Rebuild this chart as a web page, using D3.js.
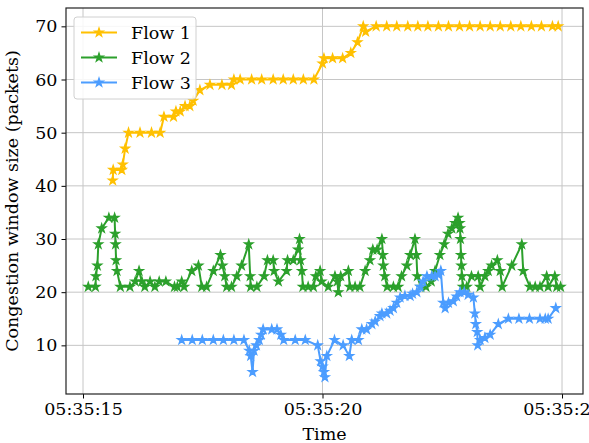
<!DOCTYPE html>
<html>

<head>
    <meta charset="utf-8">
    <title>Congestion window</title>
    <script src="https://d3js.org/d3.v7.min.js"></script>
    <style>
        body { margin: 0; background: #fff; }
        text { font-family: "DejaVu Serif", serif; fill: #000; }
    </style>
</head>

<body>
    <div class="chart"></div>
    <script>
        // seconds after 05:35:00 and cwnd values
        var flow1Time = [15.62, 15.63, 15.81, 15.83, 15.88, 15.95, 16.19, 16.43, 16.61, 16.69, 16.89, 16.94, 17.03, 17.13,
            17.23, 17.30, 17.44, 17.65, 17.90, 18.10, 18.15, 18.28, 18.52, 18.73, 18.97, 19.18, 19.39, 19.60, 19.82,
            20.00, 20.03, 20.21, 20.42, 20.59, 20.73, 20.85, 20.90, 21.12, 21.34, 21.55, 21.78, 21.99, 22.20, 22.42,
            22.63, 22.86, 23.07, 23.29, 23.50, 23.71, 23.93, 24.14, 24.36, 24.57, 24.80, 24.92];
        var flow1Cwnd = [41, 43, 43, 44, 47, 50, 50, 50, 50, 53, 53, 54, 54, 55,
            55, 56, 58, 59, 59, 59, 60, 60, 60, 60, 60, 60, 60, 60, 60,
            63, 64, 64, 64, 65, 67, 70, 69, 70, 70, 70, 70, 70, 70, 70,
            70, 70, 70, 70, 70, 70, 70, 70, 70, 70, 70, 70];

        var flow2Time = [15.11, 15.26, 15.27, 15.30, 15.32, 15.39, 15.54, 15.66, 15.67, 15.68, 15.69, 15.71, 15.78, 15.98,
            16.09, 16.17, 16.23, 16.29, 16.40, 16.50, 16.59, 16.73, 16.91, 16.97, 17.06, 17.11, 17.27, 17.41, 17.48,
            17.58, 17.72, 17.87, 17.91, 17.96, 18.00, 18.10, 18.21, 18.31, 18.46, 18.49, 18.50, 18.63, 18.78, 18.85,
            18.97, 18.99, 19.08, 19.25, 19.27, 19.39, 19.49, 19.52, 19.54, 19.57, 19.59, 19.70, 19.81, 19.86, 19.95,
            19.98, 20.12, 20.26, 20.31, 20.33, 20.38, 20.54, 20.57, 20.68, 20.78, 20.89, 20.99, 21.05, 21.14, 21.24,
            21.26, 21.27, 21.30, 21.35, 21.48, 21.58, 21.65, 21.76, 21.83, 21.93, 21.96, 21.98, 22.05, 22.16, 22.27,
            22.35, 22.45, 22.54, 22.62, 22.70, 22.77, 22.83, 22.86, 22.87, 22.88, 22.89, 22.90, 22.91, 22.93, 23.01,
            23.11, 23.25, 23.29, 23.39, 23.46, 23.53, 23.65, 23.71, 23.75, 23.95, 24.16, 24.19, 24.33, 24.44, 24.54,
            24.68, 24.71, 24.85, 24.89, 24.97];
        var flow2Cwnd = [21, 21, 23, 25, 29, 32, 34, 34, 31, 29, 26, 24, 21, 21,
            22, 24, 22, 21, 22, 21, 22, 22, 21, 21, 22, 21, 24, 25, 21,
            21, 24, 27, 25, 23, 21, 21, 23, 25, 29, 23, 21, 21, 23, 26,
            26, 24, 22, 24, 26, 26, 28, 30, 26, 24, 21, 21, 21, 23, 24,
            22, 21, 23, 22, 20, 23, 24, 21, 21, 21, 24, 26, 28, 28, 30,
            27, 25, 23, 21, 21, 21, 23, 25, 27, 30, 27, 23, 21, 21, 22,
            24, 27, 29, 31, 32, 33, 34, 33, 32, 30, 27, 25, 23, 21, 21,
            23, 23, 21, 23, 24, 25, 26, 24, 21, 25, 29, 24, 21, 21, 21,
            23, 21, 23, 21, 21];

        var flow3Time = [17.06, 17.28, 17.49, 17.72, 17.93, 18.15, 18.36, 18.47, 18.50, 18.54, 18.57, 18.62, 18.68, 18.72,
            18.76, 18.94, 19.05, 19.13, 19.19, 19.43, 19.64, 19.90, 19.96, 20.00, 20.03, 20.05, 20.09, 20.25, 20.43,
            20.56, 20.61, 20.75, 20.82, 20.92, 21.03, 21.10, 21.20, 21.24, 21.34, 21.41, 21.48, 21.55, 21.62, 21.72,
            21.83, 21.88, 21.97, 22.04, 22.10, 22.18, 22.28, 22.35, 22.42, 22.47, 22.52, 22.56, 22.63, 22.73, 22.80,
            22.87, 22.96, 23.04, 23.15, 23.18, 23.20, 23.23, 23.24, 23.29, 23.39, 23.50, 23.67, 23.88, 24.10, 24.32,
            24.54, 24.65, 24.71, 24.87];
        var flow3Cwnd = [11, 11, 11, 11, 11, 11, 11, 9, 8, 5, 9, 10, 11, 12,
            13, 13, 13, 12, 11, 11, 11, 10, 7, 6, 5, 4, 8, 11, 10,
            8, 11, 11, 13, 13, 14, 14.5, 15.5, 16, 16, 16.5, 17, 18, 19, 19.3,
            19.3, 19.7, 20, 21, 22, 23, 23, 23, 23.3, 24, 18, 17, 18, 18.3, 19.2,
            20, 20, 19.5, 19, 16, 14, 12.5, 10, 11, 11.4, 12, 14, 15, 15, 15,
            15, 15, 15, 17];

        var flowNames = ["Flow 1", "Flow 2", "Flow 3"];
        var flowColors = ["#ffc000", "#2ca02c", "#4c9dff"];
        var yTicks = [10, 20, 30, 40, 50, 60, 70];
        var xTickSeconds = [15, 20, 25];

        var base = new Date(2024, 0, 1, 5, 35, 0);
        function toDate(s) { return new Date(base.getTime() + s * 1000); }

        var flows = [
            { name: flowNames[0], color: flowColors[0], values: flow1Time.map((t, i) => ({ t: toDate(t), v: flow1Cwnd[i] })) },
            { name: flowNames[1], color: flowColors[1], values: flow2Time.map((t, i) => ({ t: toDate(t), v: flow2Cwnd[i] })) },
            { name: flowNames[2], color: flowColors[2], values: flow3Time.map((t, i) => ({ t: toDate(t), v: flow3Cwnd[i] })) }
        ];

        var margin = { top: 8, right: 6, bottom: 49, left: 66 },
            W = 589, H = 443,
            width = W - margin.left - margin.right,
            height = H - margin.top - margin.bottom;

        var x = d3.scaleTime().domain([toDate(14.645), toDate(25.438)]).range([0, width]);
        var y = d3.scaleLinear().domain([0.85, 73.45]).range([height, 0]);

        var svg = d3.select(".chart").append("svg")
            .attr("width", W).attr("height", H)
            .append("g")
            .attr("transform", "translate(" + margin.left + "," + margin.top + ")");

        // grid
        svg.append("g").selectAll("line").data(yTicks).enter().append("line")
            .attr("x1", 0).attr("x2", width)
            .attr("y1", d => y(d)).attr("y2", d => y(d))
            .attr("stroke", "#c6c6c6").attr("stroke-width", 1);
        svg.append("g").selectAll("line").data(xTickSeconds).enter().append("line")
            .attr("y1", 0).attr("y2", height)
            .attr("x1", d => x(toDate(d))).attr("x2", d => x(toDate(d)))
            .attr("stroke", "#c6c6c6").attr("stroke-width", 1);

        // axes
        var fmt = d3.timeFormat("%H:%M:%S");
        var xAxis = svg.append("g")
            .attr("transform", "translate(0," + height + ")")
            .call(d3.axisBottom(x).tickValues(xTickSeconds.map(toDate)).tickFormat(fmt).tickSize(4.5).tickPadding(4));
        var yAxis = svg.append("g")
            .call(d3.axisLeft(y).tickValues(yTicks).tickSize(4.5).tickPadding(4));
        [xAxis, yAxis].forEach(function (a) {
            a.select(".domain").remove();
            a.selectAll("line").attr("stroke", "#000").attr("stroke-width", 1);
            a.selectAll("text").style("font-family", "DejaVu Serif").style("font-size", "17.5px").attr("fill", "#000");
        });

        // frame
        svg.append("rect").attr("width", width).attr("height", height)
            .attr("fill", "none").attr("stroke", "#222").attr("stroke-width", 1.2);

        var line = d3.line().x(d => x(d.t)).y(d => y(d.v));
        var star = d3.symbol().type(d3.symbolStar).size(24);

        var plot = svg.append("g");
        flows.forEach(function (f) {
            var g = plot.append("g");
            g.append("path").datum(f.values)
                .attr("d", line).attr("fill", "none")
                .attr("stroke", f.color).attr("stroke-width", 2);
            g.selectAll("path.pt").data(f.values).enter().append("path")
                .attr("class", "pt")
                .attr("d", star)
                .attr("transform", d => "translate(" + x(d.t) + "," + y(d.v) + ")")
                .attr("fill", f.color).attr("stroke", f.color).attr("stroke-width", 1.2);
        });

        // legend
        var leg = svg.append("g").attr("transform", "translate(8,9)");
        leg.append("rect").attr("width", 122).attr("height", 82).attr("rx", 3)
            .attr("fill", "#fff").attr("fill-opacity", 0.85)
            .attr("stroke", "#d0d0d0").attr("stroke-width", 1);
        flows.forEach(function (f, i) {
            var row = leg.append("g").attr("transform", "translate(0," + (15.5 + i * 25) + ")");
            row.append("line").attr("x1", 7).attr("x2", 43)
                .attr("stroke", f.color).attr("stroke-width", 2);
            row.append("path").attr("d", star).attr("transform", "translate(25,0)")
                .attr("fill", f.color).attr("stroke", f.color).attr("stroke-width", 1.2);
            row.append("text").attr("x", 57).attr("y", 6)
                .style("font-size", "17.5px").text(f.name);
        });

        // labels
        svg.append("text")
            .attr("x", width / 2).attr("y", height + 46)
            .attr("text-anchor", "middle").style("font-size", "17.5px").text("Time");
        svg.append("text")
            .attr("transform", "translate(" + (-48) + "," + (height / 2) + ") rotate(-90)")
            .attr("text-anchor", "middle").style("font-size", "17.5px")
            .text("Congestion window size (packets)");
    </script>
</body>

</html>
